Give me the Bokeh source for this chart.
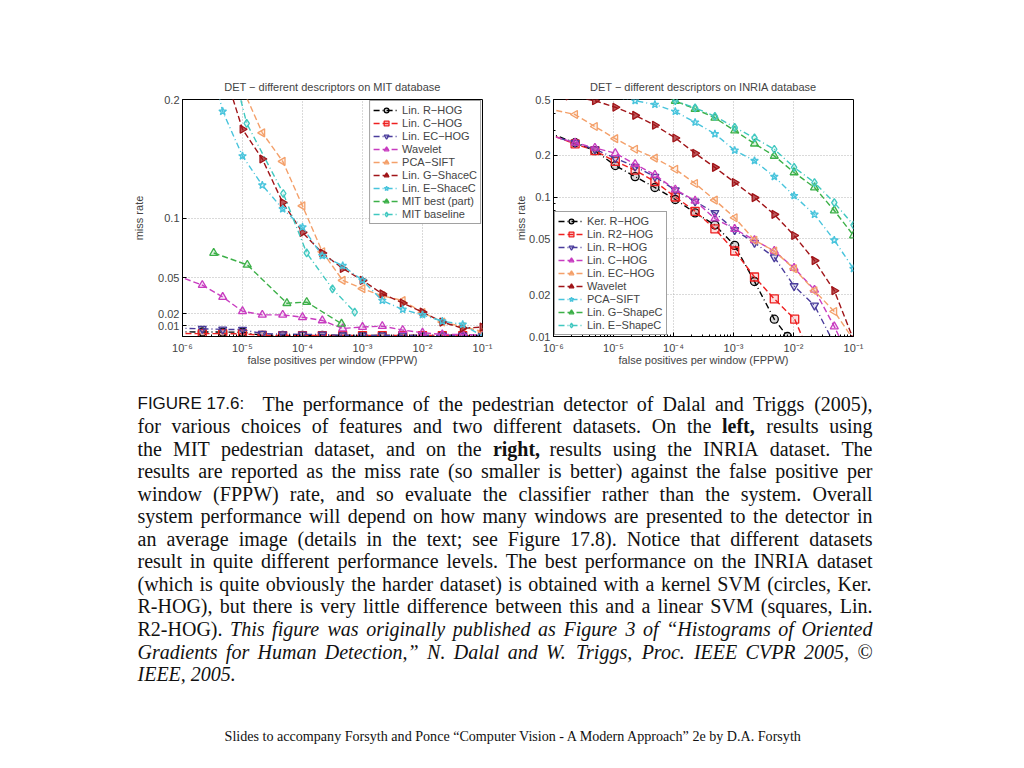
import math
from bokeh.plotting import figure
from bokeh.models import Range1d, FixedTicker, CustomJSTickFormatter, Legend, LegendItem
from bokeh.layouts import column, row
from bokeh.embed import file_html
from bokeh.resources import INLINE
from bokeh.core.properties import value

SANS = "Liberation Sans"
SERIF = "Liberation Serif"

# ---------------- data: MIT database (left) -- FPPW exponent (10**e) and miss rate
mit_rhog_e = [-6.1, -5.67, -5.33, -5.0, -4.67, -4.33, -4.0, -3.67, -3.33, -3.0, -2.67, -2.33, -2.0, -1.67, -1.33, -1.0]
mit_rhog_y = [0.0047, 0.0046, 0.0045, 0.0044, 0.0018, 0.0017, 0.0017, 0.0017, 0.0016, 0.0016, 0.0016, 0.0016, 0.0016, 0.0016, 0.0016, 0.0015]
mit_chog_e = [-6.1, -5.67, -5.33, -5.0, -4.67, -4.33, -4.0, -3.67, -3.33, -3.0, -2.67, -2.33, -2.0, -1.67, -1.33, -1.0]
mit_chog_y = [0.0033, 0.0032, 0.0032, 0.0031, 0.0017, 0.0016, 0.0016, 0.0016, 0.0016, 0.0016, 0.0016, 0.0016, 0.0016, 0.0016, 0.0016, 0.0015]
mit_echog_e = [-6.1, -5.67, -5.33, -5.0, -4.67, -4.33, -4.0, -3.67, -3.33, -3.0, -2.67, -2.33, -2.0, -1.67, -1.33, -1.0]
mit_echog_y = [0.0078, 0.0073, 0.0068, 0.0066, 0.0032, 0.0027, 0.0026, 0.0025, 0.0018, 0.0017, 0.0017, 0.0017, 0.0017, 0.0017, 0.0016, 0.0016]
mit_wavelet_e = [-6.1, -5.67, -5.33, -5.0, -4.67, -4.33, -4.0, -3.67, -3.33, -3.0, -2.67, -2.33, -2.0, -1.67, -1.33, -1.0]
mit_wavelet_y = [0.052, 0.044, 0.034, 0.022, 0.019, 0.019, 0.017, 0.0143, 0.0075, 0.0088, 0.0095, 0.0062, 0.0040, 0.0025, 0.0025, 0.0018]
mit_pcasift_e = [-5.05, -4.67, -4.33, -4.0, -3.67, -3.33, -3.0, -2.67, -2.33, -2.0, -1.67, -1.33, -1.0]
mit_pcasift_y = [0.215, 0.172, 0.148, 0.1106, 0.072, 0.048, 0.041, 0.035, 0.031, 0.021, 0.013, 0.009, 0.005]
mit_gshace_e = [-5.25, -5.0, -4.67, -4.33, -4.0, -3.67, -3.33, -3.0, -2.67, -2.33, -2.0, -1.67, -1.33, -1.0]
mit_gshace_y = [0.215, 0.175, 0.150, 0.1134, 0.0883, 0.071, 0.058, 0.048, 0.0366, 0.029, 0.0213, 0.0129, 0.0078, 0.0087]
mit_eshace_e = [-5.45, -5.33, -5.0, -4.67, -4.33, -4.0, -3.67, -3.33, -3.0, -2.67, -2.33, -2.0, -1.67, -1.33, -1.0]
mit_eshace_y = [0.215, 0.190, 0.1525, 0.128, 0.108, 0.0927, 0.0687, 0.0603, 0.048, 0.031, 0.0235, 0.019, 0.0137, 0.0109, 0.001]
mit_best_e = [-5.48, -4.92, -4.26, -3.93, -3.35]
mit_best_y = [0.071, 0.061, 0.0288, 0.0297, 0.0115]
mit_base_e = [-5.08, -4.93, -4.32, -3.93, -3.5, -3.13]
mit_base_y = [0.21, 0.180, 0.121, 0.071, 0.0408, 0.0213]

# ---------------- data: INRIA database (right)
inr_kerrhog_e = [-6.1, -5.64, -5.31, -4.97, -4.64, -4.31, -3.97, -3.64, -3.31, -2.98, -2.65, -2.32, -2.1, -1.9]
inr_kerrhog_y = [0.29, 0.245, 0.215, 0.168, 0.140, 0.117, 0.096, 0.077, 0.063, 0.045, 0.0248, 0.0133, 0.0100, 0.0075]
inr_r2hog_e = [-6.1, -5.64, -5.31, -4.97, -4.64, -4.31, -3.97, -3.64, -3.31, -2.98, -2.65, -2.32, -1.98, -1.75]
inr_r2hog_y = [0.285, 0.24, 0.215, 0.18, 0.156, 0.129, 0.100, 0.079, 0.059, 0.041, 0.0267, 0.0186, 0.0133, 0.0078]
inr_rhog_e = [-6.1, -5.64, -5.31, -4.97, -4.64, -4.31, -3.97, -3.64, -3.31, -2.98, -2.65, -2.32, -1.99, -1.65, -1.3]
inr_rhog_y = [0.28, 0.245, 0.22, 0.19, 0.165, 0.140, 0.112, 0.093, 0.077, 0.058, 0.047, 0.037, 0.023, 0.0167, 0.0085]
inr_chog_e = [-6.1, -5.64, -5.31, -4.97, -4.64, -4.31, -3.97, -3.64, -3.31, -2.98, -2.65, -2.32, -1.99, -1.65, -1.32, -1.1]
inr_chog_y = [0.28, 0.245, 0.225, 0.206, 0.172, 0.144, 0.113, 0.094, 0.070, 0.059, 0.049, 0.041, 0.031, 0.0216, 0.0118, 0.0075]
inr_echog_e = [-6.1, -5.64, -5.31, -4.97, -4.64, -4.31, -3.97, -3.64, -3.31, -2.98, -2.65, -2.32, -1.99, -1.65, -1.32, -1.0]
inr_echog_y = [0.43, 0.39, 0.32, 0.262, 0.220, 0.19, 0.158, 0.125, 0.095, 0.071, 0.049, 0.041, 0.0306, 0.0213, 0.0151, 0.0095]
inr_wavelet_e = [-5.75, -5.31, -4.97, -4.64, -4.31, -3.97, -3.64, -3.31, -2.98, -2.65, -2.32, -1.99, -1.65, -1.32, -1.0]
inr_wavelet_y = [0.53, 0.49, 0.44, 0.385, 0.327, 0.265, 0.206, 0.163, 0.127, 0.099, 0.075, 0.053, 0.035, 0.0213, 0.0095]
inr_pcasift_e = [-4.8, -4.64, -4.31, -3.97, -3.64, -3.31, -2.98, -2.65, -2.32, -1.99, -1.65, -1.32, -1.0]
inr_pcasift_y = [0.53, 0.49, 0.46, 0.41, 0.343, 0.283, 0.216, 0.182, 0.140, 0.102, 0.075, 0.049, 0.0306]
inr_gshape_e = [-4.2, -3.97, -3.64, -3.31, -2.98, -2.65, -2.32, -1.99, -1.65, -1.32, -1.0]
inr_gshape_y = [0.55, 0.487, 0.428, 0.369, 0.299, 0.241, 0.197, 0.150, 0.117, 0.080, 0.053]
inr_eshape_e = [-4.2, -3.97, -3.64, -3.31, -2.98, -2.65, -2.32, -1.99, -1.65, -1.32, -1.0]
inr_eshape_y = [0.55, 0.49, 0.435, 0.379, 0.316, 0.265, 0.220, 0.163, 0.127, 0.091, 0.063]

x_tick_exps = [-6, -5, -4, -3, -2, -1]
mit_y_ticks = [0.01, 0.02, 0.05, 0.1, 0.2]
inria_y_ticks = [0.01, 0.02, 0.05, 0.1, 0.2, 0.5]
inria_y_minor = [0.03, 0.04, 0.06, 0.07, 0.08, 0.09, 0.3, 0.4]

mit_title = "DET − different descriptors on MIT database"
inria_title = "DET − different descriptors on INRIA database"
x_label = "false positives per window (FPPW)"
y_label = "miss rate"

# ---------------- styles
BLACK, RED, BLUE, MAG = "#000000", "#ee2020", "#4a3c9c", "#c83cc0"
ORANGE, DRED, CYAN, GREEN, TEAL = "#f4a06a", "#a01418", "#48c4dc", "#3cb048", "#40c8c0"
DASH, DASHDOT = "6 3", "6 3 1 3"
LEFT, RIGHT = math.pi / 2, -math.pi / 2

mit_series = [
    ("Lin. R−HOG", mit_rhog_e, mit_rhog_y, BLACK, "circle", DASHDOT, 0),
    ("Lin. C−HOG", mit_chog_e, mit_chog_y, RED, "square", DASH, 0),
    ("Lin. EC−HOG", mit_echog_e, mit_echog_y, BLUE, "inverted_triangle", DASHDOT, 0),
    ("Wavelet", mit_wavelet_e, mit_wavelet_y, MAG, "triangle", DASH, 0),
    ("PCA−SIFT", mit_pcasift_e, mit_pcasift_y, ORANGE, "triangle", DASH, LEFT),
    ("Lin. G−ShaceC", mit_gshace_e, mit_gshace_y, DRED, "triangle", DASH, RIGHT),
    ("Lin. E−ShaceC", mit_eshace_e, mit_eshace_y, CYAN, "star", DASHDOT, 0),
    ("MIT best (part)", mit_best_e, mit_best_y, GREEN, "triangle", DASH, 0),
    ("MIT baseline", mit_base_e, mit_base_y, TEAL, "diamond", DASHDOT, 0),
]
inria_series = [
    ("Ker. R−HOG", inr_kerrhog_e, inr_kerrhog_y, BLACK, "circle", DASHDOT, 0),
    ("Lin. R2−HOG", inr_r2hog_e, inr_r2hog_y, RED, "square", DASH, 0),
    ("Lin. R−HOG", inr_rhog_e, inr_rhog_y, BLUE, "inverted_triangle", DASHDOT, 0),
    ("Lin. C−HOG", inr_chog_e, inr_chog_y, MAG, "triangle", DASH, 0),
    ("Lin. EC−HOG", inr_echog_e, inr_echog_y, ORANGE, "triangle", DASH, LEFT),
    ("Wavelet", inr_wavelet_e, inr_wavelet_y, DRED, "triangle", DASH, RIGHT),
    ("PCA−SIFT", inr_pcasift_e, inr_pcasift_y, CYAN, "star", DASHDOT, 0),
    ("Lin. G−ShapeC", inr_gshape_e, inr_gshape_y, GREEN, "triangle", DASH, 0),
    ("Lin. E−ShapeC", inr_eshape_e, inr_eshape_y, TEAL, "diamond", DASHDOT, 0),
]

SUP = """
const sup = {'-':'\u207b','0':'\u2070','1':'\u00b9','2':'\u00b2','3':'\u00b3','4':'\u2074',
             '5':'\u2075','6':'\u2076','7':'\u2077','8':'\u2078','9':'\u2079'};
const e = Math.round(Math.log10(tick));
return '10' + String(e).split('').map(c => sup[c]).join('');
"""
PLAIN = "return String(Math.round(tick*1000)/1000);"

TOP_B, FRAME_W, FRAME_H, BOT_B = 99, 300, 237, 45


def det_plot(title, y_type, y_range, y_ticks, y_minor, series, legend_loc, b_left, b_right, ylab_standoff):
    p = figure(frame_width=FRAME_W, frame_height=FRAME_H, x_axis_type="log", y_axis_type=y_type,
               x_range=Range1d(10 ** x_tick_exps[0], 10 ** x_tick_exps[-1]), y_range=y_range,
               output_backend="svg", toolbar_location=None, title=title,
               min_border_left=b_left, min_border_right=b_right, min_border_top=TOP_B, min_border_bottom=BOT_B)
    p.title.align = "center"
    p.title.text_font = SANS
    p.title.text_font_size = "11px"
    p.title.text_font_style = "normal"
    p.title.standoff = 14
    p.outline_line_color = "black"
    p.outline_line_alpha = 1
    p.background_fill_color = "white"
    p.border_fill_color = "white"

    xt = [10.0 ** e for e in x_tick_exps]
    xminor = [m * 10.0 ** e for e in x_tick_exps[:-1] for m in range(2, 10)]
    p.xaxis.ticker = FixedTicker(ticks=xt, minor_ticks=xminor)
    p.xaxis.formatter = CustomJSTickFormatter(code=SUP)
    p.yaxis.ticker = FixedTicker(ticks=y_ticks, minor_ticks=y_minor)
    p.yaxis.formatter = CustomJSTickFormatter(code=PLAIN)
    p.xaxis.axis_label = x_label
    p.yaxis.axis_label = y_label
    for ax in (p.xaxis, p.yaxis):
        ax.axis_label_text_font = SANS
        ax.axis_label_text_font_size = "11px"
        ax.axis_label_text_font_style = "normal"
        ax.major_label_text_font = SANS
        ax.major_label_text_font_size = "11px"
        ax.major_tick_in = 4
        ax.major_tick_out = 0
        ax.minor_tick_in = 2
        ax.minor_tick_out = 0
        ax.axis_line_color = "black"
    p.xaxis.major_label_standoff = 5
    p.xaxis.axis_label_standoff = -3
    p.yaxis.major_label_standoff = 3
    p.yaxis.axis_label_standoff = ylab_standoff
    for g in (p.xgrid, p.ygrid):
        g.grid_line_color = "#b4b4b4"
        g.grid_line_dash = "1 2"
        g.grid_line_width = 1

    items = []
    for label, xe, ys, color, marker, dash, ang in series:
        xs = [10.0 ** e for e in xe]
        r1 = p.line(xs, ys, line_color=color, line_width=1.4, line_dash=dash)
        r2 = p.scatter(xs, ys, marker=marker, size=8, angle=ang, line_color=color, line_width=1.3,
                       fill_color=color, fill_alpha=(0.7 if color == DRED else 0.15))
        items.append(LegendItem(label=label, renderers=[r1, r2]))
    leg = Legend(items=items, location=legend_loc)
    leg.label_text_font = SANS
    leg.label_text_font_size = "11px"
    leg.label_height = 12
    leg.glyph_height = 12
    leg.glyph_width = 26
    leg.label_standoff = 3
    leg.spacing = 1
    leg.padding = 3
    leg.margin = 1
    leg.border_line_color = "#444444"
    leg.border_line_width = 1
    leg.background_fill_alpha = 1
    p.add_layout(leg)
    return p


left = det_plot(mit_title, "linear", Range1d(0.0008, 0.2), mit_y_ticks, [], mit_series,
                "top_right", 182, 20, 10)
right = det_plot(inria_title, "log", Range1d(0.01, 0.5), inria_y_ticks, inria_y_minor, inria_series,
                 "bottom_left", 51, 20, -1)

# ---------------- caption text
caption_head = "FIGURE 17.6:"
caption_lines = [
    "The performance of the pedestrian detector of Dalal and Triggs (2005),",
    "for various choices of features and two different datasets. On the left, results using",
    "the MIT pedestrian dataset, and on the right, results using the INRIA dataset. The",
    "results are reported as the miss rate (so smaller is better) against the false positive per",
    "window (FPPW) rate, and so evaluate the classifier rather than the system. Overall",
    "system performance will depend on how many windows are presented to the detector in",
    "an average image (details in the text; see Figure 17.8). Notice that different datasets",
    "result in quite different performance levels. The best performance on the INRIA dataset",
    "(which is quite obviously the harder dataset) is obtained with a kernel SVM (circles, Ker.",
    "R-HOG), but there is very little difference between this and a linear SVM (squares, Lin.",
    "R2-HOG).",
]
caption_bold_words = ["left,", "right,"]
caption_italic = [
    "This figure was originally published as Figure 3 of “Histograms of Oriented",
    "Gradients for Human Detection,” N. Dalal and W. Triggs, Proc. IEEE CVPR 2005, ©",
    "IEEE, 2005.",
]
footer = "Slides to accompany Forsyth and Ponce “Computer Vision - A Modern Approach” 2e by D.A. Forsyth"

# approximate advance widths (1/1000 em) of Liberation Serif, used only to justify the caption lines
_REG = dict(zip("abcdefghijklmnopqrstuvwxyz",
                [444, 500, 444, 500, 444, 333, 500, 500, 278, 278, 500, 278, 778, 500, 500, 500, 500, 333, 389,
                 278, 500, 500, 722, 500, 500, 444]))
_REG.update(dict(zip("ABCDEFGHIJKLMNOPQRSTUVWXYZ",
                     [722, 667, 667, 722, 611, 556, 722, 722, 333, 389, 722, 611, 889, 722, 722, 556, 722, 667,
                      556, 611, 722, 722, 944, 722, 722, 611])))
_ITA = dict(zip("abcdefghijklmnopqrstuvwxyz",
                [500, 500, 444, 500, 444, 278, 500, 500, 278, 278, 444, 278, 722, 500, 500, 500, 500, 389, 389,
                 278, 500, 444, 667, 444, 444, 389]))
_ITA.update(dict(zip("ABCDEFGHIJKLMNOPQRSTUVWXYZ",
                     [611, 611, 667, 722, 611, 611, 722, 722, 333, 444, 667, 556, 833, 667, 722, 611, 722, 611,
                      500, 556, 722, 611, 833, 611, 556, 556])))
for _t, _q in ((_REG, 444), (_ITA, 556)):
    _t.update({c: 500 for c in "0123456789"})
    _t.update({".": 250, ",": 250, "(": 333, ")": 333, "-": 333, ";": 278, ":": 278, "“": _q, "”": _q,
               "©": 760, " ": 250})


def wwidth(word, style, size):
    t = _ITA if style == "italic" else _REG
    k = 1.06 if style == "bold" else 1.0
    return sum(t.get(c, 500) for c in word) * size * k / 1000.0


FS = 20.0
CAP_H = 380
ROW_H = TOP_B + FRAME_H + BOT_B + 7.5   # measured height of the row of plots
cap = figure(width=1008, height=CAP_H, x_range=Range1d(0, 1008), y_range=Range1d(CAP_H, 0),
             output_backend="svg", toolbar_location=None, x_axis_location=None, y_axis_location=None,
             min_border=0)
cap.outline_line_color = None
cap.grid.visible = False

X_L, X_R = 137, 872
BASE0 = 410.5 - ROW_H
LEAD = 22.55


def styled(text, default):
    return [(w, "bold" if w in caption_bold_words else default) for w in text.split()]


lines = [(styled(caption_lines[0], "normal"), 262, True)]
for ln in caption_lines[1:-1]:
    lines.append((styled(ln, "normal"), X_L, True))
lines.append((styled(caption_lines[-1], "normal") + styled(caption_italic[0], "italic"), X_L, True))
for k, ln in enumerate(caption_italic[1:]):
    lines.append((styled(ln, "italic"), X_L, k < len(caption_italic) - 2))

groups = {s: dict(x=[], y=[], text=[]) for s in ("normal", "bold", "italic")}
for i, (words, x_start, just) in enumerate(lines):
    widths = [wwidth(w, s, FS) for w, s in words]
    gap = (X_R - x_start - sum(widths)) / max(len(words) - 1, 1) if just else 0.25 * FS
    x = x_start
    for (w, s), wd in zip(words, widths):
        groups[s]["x"].append(x)
        groups[s]["y"].append(BASE0 + LEAD * i)
        groups[s]["text"].append(w)
        x += wd + gap

cap.text(x=[X_L], y=[BASE0], text=[caption_head], text_font=value(SANS), text_font_size="17px",
         text_baseline="alphabetic", text_color="#111111")
for s, d in groups.items():
    cap.text(x="x", y="y", text="text", source=d, text_font=value(SERIF), text_font_size=f"{FS}px",
             text_font_style=s, text_baseline="alphabetic", text_color="#111111")
cap.text(x=[513.5], y=[742.5 - ROW_H], text=[footer], text_font=value(SERIF), text_font_size="14.1px",
         text_align="center", text_baseline="alphabetic", text_color="#111111")

layout = column(row(left, right), cap)
open("out.html", "w").write(file_html(layout, INLINE))
